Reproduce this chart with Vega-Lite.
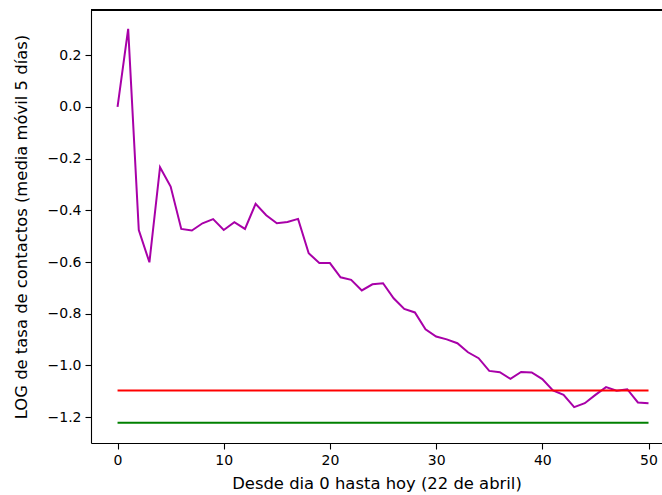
{
  "$schema": "https://vega.github.io/schema/vega-lite/v6.json",
  "width": 571,
  "height": 433,
  "autosize": {"type": "none"},
  "padding": {"left": 91, "top": 10, "right": 0, "bottom": 52},
  "background": "white",
  "config": {
    "view": {"stroke": null},
    "font": "DejaVu Sans",
    "axis": {
      "grid": false,
      "domainColor": "#000000",
      "domainWidth": 1.1,
      "tickColor": "#000000",
      "tickWidth": 1.1,
      "tickSize": 6,
      "labelPadding": 4,
      "labelFont": "DejaVu Sans",
      "labelFontSize": 14,
      "labelColor": "#000000",
      "titleFont": "DejaVu Sans",
      "titleFontSize": 16.4,
      "titleFontWeight": "normal",
      "titleColor": "#000000"
    }
  },
  "data": {
    "values": [
      {"dia": 0, "valor": 0.0, "serie": "tasa"},
      {"dia": 1, "valor": 0.302, "serie": "tasa"},
      {"dia": 2, "valor": -0.476, "serie": "tasa"},
      {"dia": 3, "valor": -0.601, "serie": "tasa"},
      {"dia": 4, "valor": -0.233, "serie": "tasa"},
      {"dia": 5, "valor": -0.308, "serie": "tasa"},
      {"dia": 6, "valor": -0.472, "serie": "tasa"},
      {"dia": 7, "valor": -0.478, "serie": "tasa"},
      {"dia": 8, "valor": -0.450, "serie": "tasa"},
      {"dia": 9, "valor": -0.434, "serie": "tasa"},
      {"dia": 10, "valor": -0.476, "serie": "tasa"},
      {"dia": 11, "valor": -0.446, "serie": "tasa"},
      {"dia": 12, "valor": -0.472, "serie": "tasa"},
      {"dia": 13, "valor": -0.375, "serie": "tasa"},
      {"dia": 14, "valor": -0.419, "serie": "tasa"},
      {"dia": 15, "valor": -0.450, "serie": "tasa"},
      {"dia": 16, "valor": -0.445, "serie": "tasa"},
      {"dia": 17, "valor": -0.433, "serie": "tasa"},
      {"dia": 18, "valor": -0.566, "serie": "tasa"},
      {"dia": 19, "valor": -0.604, "serie": "tasa"},
      {"dia": 20, "valor": -0.604, "serie": "tasa"},
      {"dia": 21, "valor": -0.659, "serie": "tasa"},
      {"dia": 22, "valor": -0.669, "serie": "tasa"},
      {"dia": 23, "valor": -0.710, "serie": "tasa"},
      {"dia": 24, "valor": -0.686, "serie": "tasa"},
      {"dia": 25, "valor": -0.682, "serie": "tasa"},
      {"dia": 26, "valor": -0.740, "serie": "tasa"},
      {"dia": 27, "valor": -0.781, "serie": "tasa"},
      {"dia": 28, "valor": -0.795, "serie": "tasa"},
      {"dia": 29, "valor": -0.860, "serie": "tasa"},
      {"dia": 30, "valor": -0.888, "serie": "tasa"},
      {"dia": 31, "valor": -0.899, "serie": "tasa"},
      {"dia": 32, "valor": -0.914, "serie": "tasa"},
      {"dia": 33, "valor": -0.949, "serie": "tasa"},
      {"dia": 34, "valor": -0.972, "serie": "tasa"},
      {"dia": 35, "valor": -1.021, "serie": "tasa"},
      {"dia": 36, "valor": -1.026, "serie": "tasa"},
      {"dia": 37, "valor": -1.052, "serie": "tasa"},
      {"dia": 38, "valor": -1.025, "serie": "tasa"},
      {"dia": 39, "valor": -1.027, "serie": "tasa"},
      {"dia": 40, "valor": -1.053, "serie": "tasa"},
      {"dia": 41, "valor": -1.097, "serie": "tasa"},
      {"dia": 42, "valor": -1.114, "serie": "tasa"},
      {"dia": 43, "valor": -1.161, "serie": "tasa"},
      {"dia": 44, "valor": -1.146, "serie": "tasa"},
      {"dia": 45, "valor": -1.114, "serie": "tasa"},
      {"dia": 46, "valor": -1.084, "serie": "tasa"},
      {"dia": 47, "valor": -1.098, "serie": "tasa"},
      {"dia": 48, "valor": -1.092, "serie": "tasa"},
      {"dia": 49, "valor": -1.143, "serie": "tasa"},
      {"dia": 50, "valor": -1.146, "serie": "tasa"},
      {"dia": 0, "valor": -1.097, "serie": "rojo"},
      {"dia": 50, "valor": -1.097, "serie": "rojo"},
      {"dia": 0, "valor": -1.222, "serie": "verde"},
      {"dia": 50, "valor": -1.222, "serie": "verde"}
    ]
  },
  "layer": [
    {
      "mark": {"type": "line", "strokeWidth": 2, "clip": true},
      "encoding": {
        "x": {
          "field": "dia",
          "type": "quantitative",
          "scale": {"domain": [-2.5, 51.27], "nice": false, "zero": false},
          "axis": {"values": [0, 10, 20, 30, 40, 50], "title": "Desde dia 0 hasta hoy (22 de abril)", "titlePadding": 8, "format": "d"}
        },
        "y": {
          "field": "valor",
          "type": "quantitative",
          "scale": {"domain": [-1.3, 0.375], "nice": false, "zero": false},
          "axis": {"values": [-1.2, -1.0, -0.8, -0.6, -0.4, -0.2, 0.0, 0.2], "labelExpr": "datum.value < -0.01 ? '\u2212' + format(-datum.value, '.1f') : format(abs(datum.value), '.1f')", "title": "LOG de tasa de contactos (media móvil 5 días)", "titlePadding": 18}
        },
        "color": {
          "field": "serie",
          "type": "nominal",
          "scale": {"domain": ["tasa", "rojo", "verde"], "range": ["#a800a8", "#ff0000", "#008000"]},
          "legend": null
        }
      }
    },
    {
      "mark": {"type": "rule", "color": "#000000", "strokeWidth": 1.1},
      "encoding": {
        "y": {"datum": 0.375}
      }
    }
  ]
}
